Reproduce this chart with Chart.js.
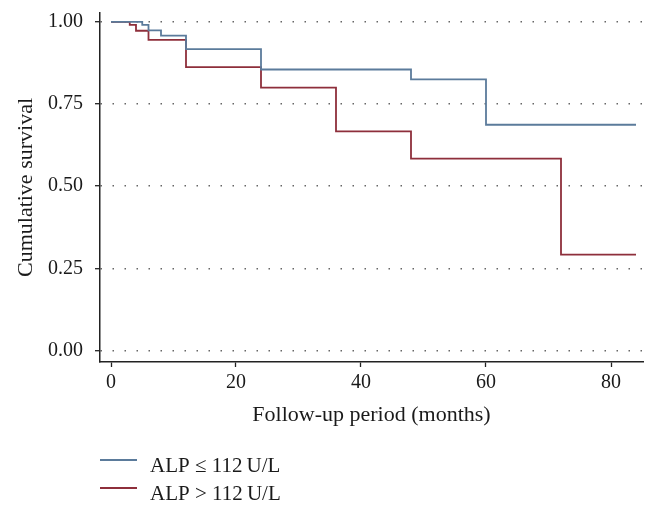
<!DOCTYPE html>
<html>
<head>
<meta charset="utf-8">
<script src="https://cdn.jsdelivr.net/npm/chart.js@4/dist/chart.umd.min.js"></script>
<style>
html,body{margin:0;padding:0;background:#fff;}
#wrap{width:658px;height:515px;position:relative;}
</style>
</head>
<body>
<div id="wrap"><canvas id="c" width="658" height="515"></canvas></div>
<script>
const seriesLabels = ['ALP \u2264 112\u2009U/L', 'ALP > 112\u2009U/L'];
const lowTimes = [0, 5, 6, 8, 12, 24, 48, 60, 84];
const lowSurv  = [1.000, 0.991, 0.974, 0.958, 0.917, 0.855, 0.825, 0.687, 0.687];
const highTimes = [0, 3, 4, 6, 12, 24, 36, 48, 72, 84];
const highSurv  = [1.000, 0.991, 0.973, 0.945, 0.862, 0.800, 0.667, 0.584, 0.292, 0.292];
const xTicks = [0, 20, 40, 60, 80];
const yTicks = [0, 0.25, 0.5, 0.75, 1.0];

const colors = ['#5b7b9b', '#8e2f3b'];
const FONT = "'Liberation Serif', 'DejaVu Serif', serif";

function pts(t, s){ return t.map((v,i)=>({x:v, y:s[i]})); }

const legendPlugin = {
  id: 'vlegend',
  afterDraw(chart){
    const ctx = chart.ctx;
    ctx.save();
    chart.data.datasets.forEach((ds, i) => {
      const y = 460 + i * 28;
      ctx.strokeStyle = ds.borderColor;
      ctx.lineWidth = 1.8;
      ctx.beginPath();
      ctx.moveTo(100, y);
      ctx.lineTo(137, y);
      ctx.stroke();
      ctx.fillStyle = '#1a1a1a';
      ctx.font = "21px " + FONT;
      ctx.textBaseline = 'alphabetic';
      ctx.textAlign = 'left';
      ctx.fillText(ds.label, 150, y + 12);
    });
    ctx.restore();
  }
};

function noPad(scale){ scale.paddingTop = 0; scale.paddingBottom = 0; scale.paddingLeft = 0; scale.paddingRight = 0; }

new Chart(document.getElementById('c'), {
  type: 'line',
  data: {
    datasets: [
      { label: seriesLabels[0], data: pts(lowTimes, lowSurv), borderColor: colors[0], borderWidth: 1.8, stepped: 'before', pointRadius: 0, fill: false },
      { label: seriesLabels[1], data: pts(highTimes, highSurv), borderColor: colors[1], borderWidth: 1.8, stepped: 'before', pointRadius: 0, fill: false }
    ]
  },
  options: {
    responsive: false,
    animation: false,
    layout: { padding: { left: 0, right: 15, top: 13, bottom: 87 } },
    plugins: { legend: { display: false }, tooltip: { enabled: false } },
    scales: {
      x: {
        type: 'linear',
        min: -1.76, max: 85.12,
        afterBuildTicks(scale){ scale.ticks = xTicks.map(v => ({value: v})); },
        afterFit(scale){ scale.height = 66; noPad(scale); },
        ticks: { color: '#1a1a1a', font: { family: FONT, size: 20 }, padding: 4, maxRotation: 0, callback: v => String(v) },
        grid: { drawOnChartArea: false, drawTicks: true, tickLength: 5, tickColor: '#222', tickWidth: 1.3, tickBorderDash: [] },
        border: { display: true, color: '#222', width: 1.5 },
        title: { display: true, text: 'Follow-up period (months)', color: '#1a1a1a', font: { family: FONT, size: 22 }, padding: { top: 6, bottom: 0 } }
      },
      y: {
        type: 'linear',
        min: -0.035, max: 1.027,
        afterBuildTicks(scale){ scale.ticks = yTicks.map(v => ({value: v})); },
        afterFit(scale){ scale.width = 100; noPad(scale); },
        ticks: { color: '#1a1a1a', font: { family: FONT, size: 20 }, padding: 12, callback: v => Number(v).toFixed(2) },
        grid: { drawOnChartArea: true, color: '#666', lineWidth: 1.4, drawTicks: true, tickLength: 5, tickColor: '#222', tickWidth: 1.3, tickBorderDash: [] },
        border: { display: true, color: '#222', width: 1.5, dash: [1.5, 10.5] },
        title: { display: true, text: 'Cumulative survival', color: '#1a1a1a', font: { family: FONT, size: 22 }, padding: { top: 13, bottom: 0 } }
      }
    }
  },
  plugins: [legendPlugin]
});
</script>
</body>
</html>
